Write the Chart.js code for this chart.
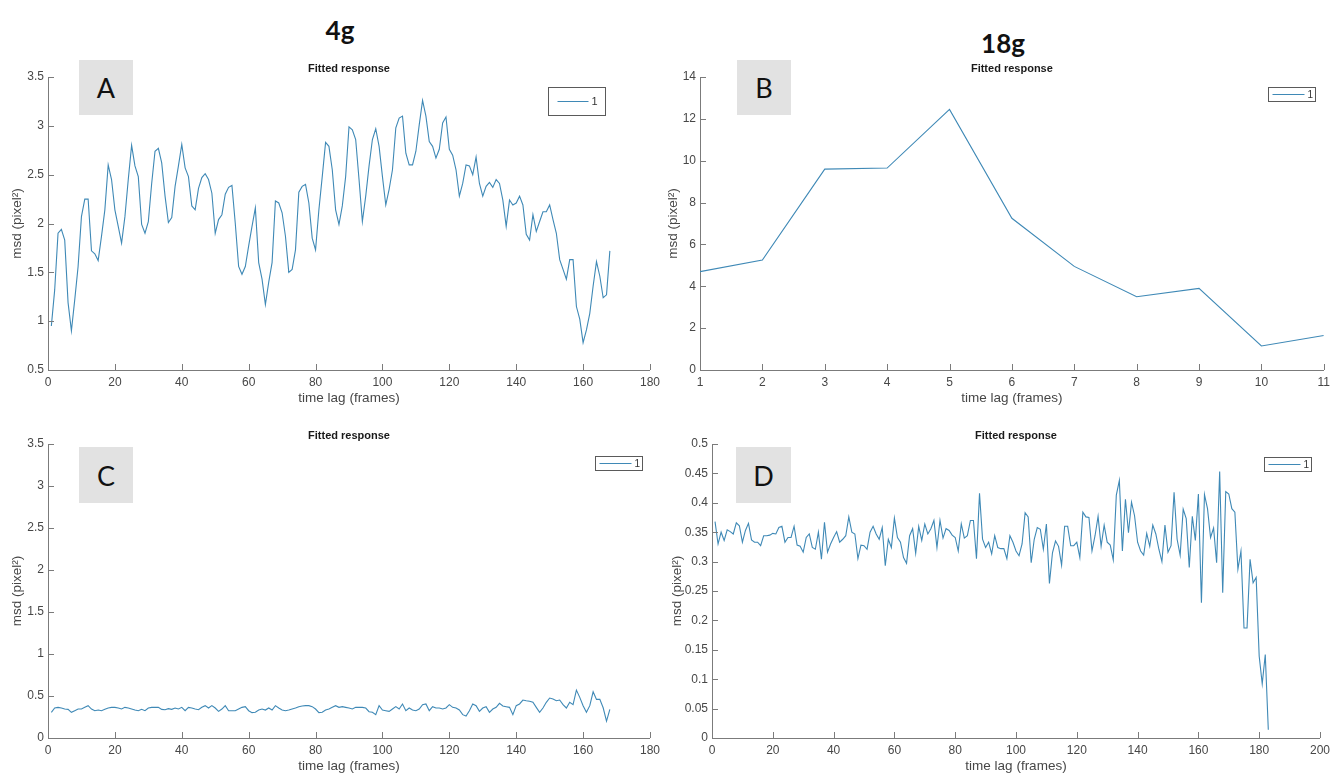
<!DOCTYPE html>
<html>
<head>
<meta charset="utf-8">
<title>Fitted response - msd vs time lag</title>
<script src="https://cdn.jsdelivr.net/npm/chart.js@4.4.1/dist/chart.umd.min.js"></script>
<style>
  body { margin: 0; background: #fff; width: 1335px; height: 774px; position: relative; overflow: hidden; }
  canvas { position: absolute; }
  .head { position: absolute; font-family: Lato, "Open Sans", sans-serif; font-weight: 700; font-size: 26px; color: #111; transform: translate(-50%, -50%); }
  .tag { position: absolute; background: #e2e2e2; font-family: Lato, "Open Sans", sans-serif; font-size: 27px; color: #111; display: flex; align-items: center; justify-content: center; }
</style>
</head>
<body>
<div class="head" style="left:340px;top:30px">4g</div>
<div class="head" style="left:1003px;top:43px">18g</div>

<canvas id="chartA" width="665" height="355" style="left:0;top:55px"></canvas>
<canvas id="chartB" width="670" height="355" style="left:665px;top:55px"></canvas>
<canvas id="chartC" width="665" height="352" style="left:0;top:422px"></canvas>
<canvas id="chartD" width="670" height="352" style="left:665px;top:422px"></canvas>

<div class="tag" style="left:79px;top:60px;width:54px;height:55px">A</div>
<div class="tag" style="left:737px;top:60px;width:54px;height:55px">B</div>
<div class="tag" style="left:79px;top:447px;width:54px;height:56px">C</div>
<div class="tag" style="left:736px;top:447px;width:55px;height:56px">D</div>

<script>
// msd values, one value per time lag (frames start at 1)
const msdA = [
  0.95, 1.32, 1.90, 1.94, 1.83, 1.19, 0.90, 1.22, 1.56, 2.07,
  2.25, 2.25, 1.72, 1.69, 1.62, 1.87, 2.14, 2.60, 2.45, 2.14,
  1.97, 1.80, 2.07, 2.45, 2.80, 2.59, 2.48, 1.99, 1.90, 2.02,
  2.41, 2.74, 2.77, 2.62, 2.28, 2.01, 2.06, 2.38, 2.59, 2.81,
  2.57, 2.48, 2.18, 2.14, 2.36, 2.47, 2.51, 2.45, 2.31, 1.90,
  2.04, 2.09, 2.30, 2.37, 2.39, 2.00, 1.56, 1.48, 1.56, 1.77,
  1.97, 2.16, 1.60, 1.43, 1.17, 1.40, 1.60, 2.23, 2.21, 2.11,
  1.87, 1.50, 1.53, 1.73, 2.32, 2.38, 2.40, 2.21, 1.85, 1.73,
  2.14, 2.48, 2.83, 2.79, 2.55, 2.14, 1.99, 2.18, 2.48, 2.99,
  2.96, 2.86, 2.45, 2.02, 2.28, 2.59, 2.86, 2.97, 2.79, 2.48,
  2.19, 2.35, 2.55, 2.98, 3.08, 3.10, 2.72, 2.60, 2.60, 2.74,
  3.01, 3.26, 3.10, 2.84, 2.79, 2.67, 2.76, 3.03, 3.09, 2.76,
  2.70, 2.55, 2.28, 2.41, 2.60, 2.59, 2.50, 2.68, 2.41, 2.28,
  2.38, 2.42, 2.37, 2.45, 2.41, 2.24, 1.97, 2.24, 2.19, 2.21,
  2.28, 2.19, 1.89, 1.83, 2.09, 1.92, 2.02, 2.12, 2.12, 2.19,
  2.04, 1.90, 1.63, 1.53, 1.43, 1.63, 1.63, 1.15, 1.02, 0.78,
  0.91, 1.08, 1.36, 1.61, 1.46, 1.24, 1.27, 1.72
];

const lagB = [1, 2, 3, 4, 5, 6, 7, 8, 9, 10, 11];
const msdB = [4.7, 5.25, 9.6, 9.65, 12.45, 7.25, 4.95, 3.5, 3.9, 1.15, 1.65];

const msdC = [
  0.306, 0.357, 0.365, 0.357, 0.345, 0.341, 0.306, 0.325, 0.345, 0.345,
  0.365, 0.385, 0.345, 0.325, 0.333, 0.325, 0.341, 0.357, 0.365, 0.365,
  0.357, 0.345, 0.365, 0.357, 0.345, 0.333, 0.325, 0.341, 0.325, 0.357,
  0.365, 0.365, 0.365, 0.341, 0.337, 0.349, 0.341, 0.357, 0.345, 0.365,
  0.325, 0.365, 0.357, 0.345, 0.337, 0.365, 0.385, 0.357, 0.385, 0.357,
  0.317, 0.345, 0.385, 0.325, 0.325, 0.325, 0.345, 0.365, 0.373, 0.325,
  0.302, 0.306, 0.333, 0.345, 0.333, 0.357, 0.333, 0.385, 0.357, 0.333,
  0.325, 0.333, 0.345, 0.357, 0.373, 0.381, 0.385, 0.385, 0.373, 0.345,
  0.302, 0.306, 0.333, 0.345, 0.365, 0.385, 0.365, 0.373, 0.365, 0.357,
  0.345, 0.365, 0.365, 0.365, 0.357, 0.313, 0.306, 0.278, 0.385, 0.333,
  0.325, 0.317, 0.345, 0.373, 0.345, 0.405, 0.325, 0.357, 0.333, 0.325,
  0.345, 0.397, 0.405, 0.325, 0.373, 0.357, 0.357, 0.345, 0.357, 0.397,
  0.365, 0.357, 0.333, 0.278, 0.262, 0.325, 0.405, 0.385, 0.317, 0.357,
  0.373, 0.306, 0.345, 0.365, 0.413, 0.381, 0.373, 0.365, 0.278, 0.385,
  0.405, 0.452, 0.444, 0.437, 0.425, 0.365, 0.306, 0.357, 0.425, 0.476,
  0.464, 0.444, 0.452, 0.397, 0.357, 0.425, 0.397, 0.570, 0.484, 0.385,
  0.306, 0.385, 0.550, 0.460, 0.460, 0.360, 0.200, 0.340
];

const msdD = [
  0.368, 0.330, 0.350, 0.336, 0.354, 0.351, 0.347, 0.366, 0.361, 0.333,
  0.353, 0.365, 0.337, 0.333, 0.333, 0.327, 0.344, 0.344, 0.345, 0.348,
  0.347, 0.358, 0.360, 0.333, 0.341, 0.341, 0.360, 0.328, 0.326, 0.316,
  0.341, 0.347, 0.324, 0.321, 0.350, 0.304, 0.367, 0.316, 0.330, 0.341,
  0.351, 0.333, 0.338, 0.344, 0.376, 0.350, 0.347, 0.305, 0.328, 0.327,
  0.321, 0.350, 0.360, 0.347, 0.338, 0.358, 0.293, 0.338, 0.324, 0.374,
  0.341, 0.333, 0.307, 0.297, 0.344, 0.356, 0.314, 0.360, 0.336, 0.364,
  0.347, 0.356, 0.370, 0.324, 0.370, 0.340, 0.356, 0.353, 0.345, 0.341,
  0.318, 0.364, 0.340, 0.344, 0.370, 0.370, 0.305, 0.416, 0.338, 0.324,
  0.333, 0.313, 0.344, 0.324, 0.322, 0.322, 0.305, 0.344, 0.333, 0.318,
  0.310, 0.330, 0.383, 0.376, 0.298, 0.338, 0.358, 0.355, 0.321, 0.364,
  0.263, 0.315, 0.335, 0.326, 0.294, 0.360, 0.360, 0.327, 0.327, 0.333,
  0.307, 0.384, 0.376, 0.375, 0.318, 0.344, 0.377, 0.326, 0.362, 0.333,
  0.328, 0.303, 0.413, 0.438, 0.318, 0.406, 0.349, 0.401, 0.378, 0.333,
  0.318, 0.311, 0.348, 0.326, 0.362, 0.347, 0.321, 0.300, 0.362, 0.316,
  0.327, 0.418, 0.338, 0.311, 0.389, 0.373, 0.290, 0.377, 0.336, 0.415,
  0.230, 0.414, 0.390, 0.341, 0.357, 0.298, 0.453, 0.247, 0.419, 0.415,
  0.390, 0.384, 0.287, 0.318, 0.187, 0.187, 0.304, 0.264, 0.273, 0.139,
  0.092, 0.142, 0.014
];

const lineBlue = "#3f89b6";
const axisGray = "#7b7b7b";
const labelGray = "#474747";
const sans = "'Liberation Sans', Arial, sans-serif";

// lag index for each sample: frame 1, 2, 3 ...
const toPoints = (vals, lags) => vals.map((v, i) => ({ x: lags ? lags[i] : i + 1, y: v }));
const fmt = (v) => String(+Number(v).toFixed(2));

// matlab style: ticks pointing into the axes, boxed legend in the corner
const matlabLook = {
  id: "matlabLook",
  afterDraw(chart, args, opts) {
    const { ctx, chartArea, scales } = chart;
    ctx.save();
    ctx.strokeStyle = axisGray;
    ctx.lineWidth = 1;
    ctx.beginPath();
    scales.x.ticks.forEach((t) => {
      const px = Math.round(scales.x.getPixelForValue(t.value)) + 0.5;
      ctx.moveTo(px, chartArea.bottom);
      ctx.lineTo(px, chartArea.bottom - 6);
    });
    scales.y.ticks.forEach((t) => {
      const py = Math.round(scales.y.getPixelForValue(t.value)) + 0.5;
      ctx.moveTo(chartArea.left, py);
      ctx.lineTo(chartArea.left + 6, py);
    });
    ctx.stroke();

    const lg = opts.legend;
    const left = Math.round(chartArea.right - lg.right - lg.w) + 0.5;
    const top = Math.round(chartArea.top + lg.top) + 0.5;
    const midY = top + lg.h / 2;
    ctx.fillStyle = "#fff";
    ctx.fillRect(left, top, lg.w, lg.h);
    ctx.strokeStyle = "#5a5a5a";
    ctx.strokeRect(left, top, lg.w, lg.h);
    ctx.strokeStyle = lineBlue;
    ctx.beginPath();
    ctx.moveTo(left + lg.x1, midY);
    ctx.lineTo(left + lg.x2, midY);
    ctx.stroke();
    ctx.fillStyle = "#333";
    ctx.font = lg.size + "px " + sans;
    ctx.textBaseline = "middle";
    ctx.fillText(chart.data.datasets[0].label, left + lg.x2 + 3, midY + 0.5);
    ctx.restore();
  },
};

function makeChart(id, points, cfg) {
  return new Chart(document.getElementById(id), {
    type: "line",
    data: {
      datasets: [
        {
          label: "1",
          data: points,
          borderColor: lineBlue,
          borderWidth: 1.1,
          pointRadius: 0,
          tension: 0,
          fill: false,
        },
      ],
    },
    options: {
      responsive: false,
      animation: false,
      events: [],
      layout: { padding: { top: 0, right: cfg.padRight, bottom: 0, left: 0 } },
      plugins: {
        legend: { display: false },
        tooltip: { enabled: false },
        title: {
          display: true,
          fullSize: false,
          text: "Fitted response",
          color: "#1a1a1a",
          font: { family: sans, size: 11, weight: "bold", lineHeight: 1.2 },
          padding: { top: 7, bottom: 1.8 },
        },
        matlabLook: { legend: cfg.legend },
      },
      scales: {
        x: {
          type: "linear",
          min: cfg.xMin,
          max: cfg.xMax,
          grid: { display: false, drawTicks: false },
          border: { display: true, color: axisGray, width: 1 },
          ticks: {
            stepSize: cfg.xStep,
            autoSkip: false,
            maxRotation: 0,
            padding: 5,
            color: labelGray,
            font: { family: sans, size: 12 },
            callback: fmt,
          },
          title: {
            display: true,
            text: "time lag (frames)",
            color: labelGray,
            font: { family: sans, size: 13.5, lineHeight: 1.2 },
            padding: { top: 0, bottom: cfg.xTitlePad },
          },
          afterFit: (scale) => { scale.height = cfg.xAxisH; },
        },
        y: {
          min: cfg.yMin,
          max: cfg.yMax,
          grid: { display: false, drawTicks: false },
          border: { display: true, color: axisGray, width: 1 },
          ticks: {
            stepSize: cfg.yStep,
            autoSkip: false,
            padding: 4,
            color: labelGray,
            font: { family: sans, size: 12 },
            callback: fmt,
          },
          title: {
            display: true,
            text: "msd (pixel²)",
            color: labelGray,
            font: { family: sans, size: 13.5, lineHeight: 1.2 },
            padding: { top: cfg.yTitlePad, bottom: 0 },
          },
          afterFit: (scale) => { scale.width = cfg.yAxisW; },
        },
      },
    },
    plugins: [matlabLook],
  });
}

const bigLegend = { right: 45, top: 10, w: 57, h: 28, x1: 9, x2: 40, size: 11 };
const smallLegend = (right, top) => ({ right, top, w: 47, h: 14, x1: 4, x2: 36, size: 10 });

makeChart("chartA", toPoints(msdA), {
  xMin: 0, xMax: 180, xStep: 20, yMin: 0.5, yMax: 3.5, yStep: 0.5,
  padRight: 15, yAxisW: 48, xAxisH: 40, xTitlePad: 4, yTitlePad: 9.5,
  legend: bigLegend,
});

makeChart("chartB", toPoints(msdB, lagB), {
  xMin: 1, xMax: 11, xStep: 1, yMin: 0, yMax: 14, yStep: 2,
  padRight: 8, yAxisW: 35, xAxisH: 40, xTitlePad: 4, yTitlePad: 0,
  legend: smallLegend(9, 10),
});

makeChart("chartC", toPoints(msdC), {
  xMin: 0, xMax: 180, xStep: 20, yMin: 0, yMax: 3.5, yStep: 0.5,
  padRight: 15, yAxisW: 48, xAxisH: 36, xTitlePad: 0, yTitlePad: 9.5,
  legend: smallLegend(8, 12),
});

makeChart("chartD", toPoints(msdD), {
  xMin: 0, xMax: 200, xStep: 20, yMin: 0, yMax: 0.5, yStep: 0.05,
  padRight: 7, yAxisW: 47, xAxisH: 36, xTitlePad: 0, yTitlePad: 4,
  legend: smallLegend(9, 13),
});
</script>
</body>
</html>
